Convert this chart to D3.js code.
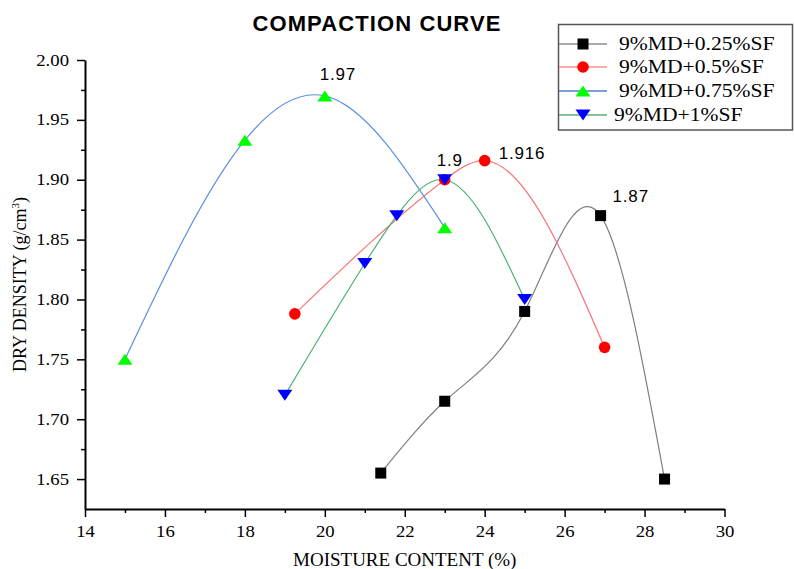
<!DOCTYPE html>
<html>
<head>
<meta charset="utf-8">
<script src="https://cdn.jsdelivr.net/npm/d3@7"></script>
<style>
  body { margin: 0; background: #fff; }
  svg { display: block; }
</style>
</head>
<body>
<svg id="chart"></svg>
<script>
var width = 794;
var height = 569;

// series names (legend order)
var seriesNames = ["9%MD+0.25%SF", "9%MD+0.5%SF", "9%MD+0.75%SF", "9%MD+1%SF"];

// moisture content (%) and dry density (g/cm3) per series
var moist025 = [21.4, 23, 25, 26.9, 28.5];
var dens025  = [1.655, 1.715, 1.79, 1.87, 1.65];

var moist05 = [19.25, 23, 24, 27];
var dens05  = [1.788, 1.9, 1.916, 1.76];

var moist075 = [15, 18, 20, 23];
var dens075  = [1.75, 1.933, 1.97, 1.86];

var moist1 = [19, 21, 21.8, 23, 25];
var dens1  = [1.72, 1.83, 1.87, 1.9, 1.8];

// peak labels
var peakLabels = ["1.87", "1.916", "1.97", "1.9"];
var peakIndex = [3, 2, 2, 3];

var xTicks = [14, 16, 18, 20, 22, 24, 26, 28, 30];
var yTicks = [1.65, 1.70, 1.75, 1.80, 1.85, 1.90, 1.95, 2.00];

var lineColors = ["#7f7f7f", "#f47a7a", "#5a8ee0", "#4fae72"];
var markColors = ["#000000", "#ff0000", "#00ff00", "#0000ff"];
var shapes = ["square", "circle", "up", "down"];

var seriesX = [moist025, moist05, moist075, moist1];
var seriesY = [dens025, dens05, dens075, dens1];

var serif = "'Liberation Serif', 'Times New Roman', serif";
var sans = "'Liberation Sans', Arial, sans-serif";

var margin = {left: 85, right: 794 - 724.5, top: 60, bottom: 569 - 509};

var x = d3.scaleLinear().domain([14, 30]).range([margin.left, width - margin.right]);
var y = d3.scaleLinear().domain([1.625, 2.0]).range([height - margin.bottom, margin.top]);

// natural cubic spline with x as the parameter (like Origin's spline connect),
// written as a d3 curve so each span is one exact bezier
function SplineX(context) { this._context = context; }
SplineX.prototype = {
    areaStart: function() { this._line = 0; },
    areaEnd: function() { this._line = NaN; },
    lineStart: function() { this._x = []; this._y = []; },
    point: function(px, py) { this._x.push(+px); this._y.push(+py); },
    lineEnd: function() {
        var xs = this._x, ys = this._y, n = xs.length - 1, c = this._context;
        if (n < 0) return;
        c.moveTo(xs[0], ys[0]);
        if (n === 0) return;
        var h = [], i;
        for (i = 0; i < n; i++) h.push(xs[i + 1] - xs[i]);
        // second derivatives M (M0 = Mn = 0)
        var M = new Array(n + 1).fill(0);
        if (n > 1) {
            var a = [], b = [], cc = [], r = [];
            for (i = 1; i < n; i++) {
                a.push(h[i - 1]);
                b.push(2 * (h[i - 1] + h[i]));
                cc.push(h[i]);
                r.push(6 * ((ys[i + 1] - ys[i]) / h[i] - (ys[i] - ys[i - 1]) / h[i - 1]));
            }
            var m = b.length;
            for (i = 1; i < m; i++) {
                var w = a[i] / b[i - 1];
                b[i] -= w * cc[i - 1];
                r[i] -= w * r[i - 1];
            }
            var sol = new Array(m);
            sol[m - 1] = r[m - 1] / b[m - 1];
            for (i = m - 2; i >= 0; i--) sol[i] = (r[i] - cc[i] * sol[i + 1]) / b[i];
            for (i = 0; i < m; i++) M[i + 1] = sol[i];
        }
        for (i = 0; i < n; i++) {
            var s = (ys[i + 1] - ys[i]) / h[i];
            var d0 = s - h[i] * (2 * M[i] + M[i + 1]) / 6;
            var d1 = s + h[i] * (M[i] + 2 * M[i + 1]) / 6;
            c.bezierCurveTo(xs[i] + h[i] / 3, ys[i] + d0 * h[i] / 3,
                            xs[i + 1] - h[i] / 3, ys[i + 1] - d1 * h[i] / 3,
                            xs[i + 1], ys[i + 1]);
        }
    }
};
function curveSplineX(context) { return new SplineX(context); }

var svg = d3.select("#chart")
    .attr("width", width)
    .attr("height", height);

svg.append("rect").attr("width", width).attr("height", height).attr("fill", "#fff");

// title
svg.append("text")
    .attr("x", 377)
    .attr("y", 31)
    .attr("text-anchor", "middle")
    .style("font-family", sans)
    .style("font-weight", "bold")
    .style("font-size", "22px")
    .style("letter-spacing", "1.1px")
    .text("COMPACTION CURVE");

// minor ticks
svg.append("g")
    .attr("transform", "translate(0," + y.range()[0] + ")")
    .call(d3.axisBottom(x).tickValues(d3.range(15, 30, 2)).tickSize(4).tickFormat(""))
    .call(function(g){ g.select(".domain").remove(); })
    .selectAll("line").attr("stroke-width", 1.5);

svg.append("g")
    .attr("transform", "translate(" + x.range()[0] + ",0)")
    .call(d3.axisLeft(y).tickValues(d3.range(1.675, 2.0, 0.05)).tickSize(4).tickFormat(""))
    .call(function(g){ g.select(".domain").remove(); })
    .selectAll("line").attr("stroke-width", 1.5);

// major axes
var xAxis = svg.append("g")
    .attr("transform", "translate(0," + y.range()[0] + ")")
    .call(d3.axisBottom(x).tickValues(xTicks).tickSize(8).tickPadding(9).tickSizeOuter(0));

var yAxis = svg.append("g")
    .attr("transform", "translate(" + x.range()[0] + ",0)")
    .call(d3.axisLeft(y).tickValues(yTicks).tickSize(8).tickPadding(8).tickSizeOuter(0)
        .tickFormat(d3.format(".2f")));

var stretch = 1.17;
[xAxis, yAxis].forEach(function(a){
    a.attr("font-family", serif).attr("font-size", 16);
    a.select(".domain").attr("stroke-width", 2);
    a.selectAll(".tick line").attr("stroke-width", 1.5);
    a.selectAll(".tick text")
        .attr("fill", "#000")
        .attr("x", function(){ return (+d3.select(this).attr("x") || 0) / stretch; })
        .attr("transform", "scale(" + stretch + ",1)");
});

// axis titles
svg.append("text")
    .attr("x", (x.range()[0] + x.range()[1]) / 2)
    .attr("y", 566)
    .attr("text-anchor", "middle")
    .style("font-family", serif)
    .style("font-size", "19px")
    .text("MOISTURE CONTENT (%)");

var yt = svg.append("text")
    .attr("transform", "translate(26," + (y.range()[0] + y.range()[1]) / 2 + ") rotate(-90)")
    .attr("text-anchor", "middle")
    .style("font-family", serif)
    .style("font-size", "18px");
yt.append("tspan").text("DRY DENSITY (g/cm");
yt.append("tspan").attr("dy", -7).style("font-size", "11px").text("3");
yt.append("tspan").attr("dy", 7).text(")");

// marker drawing
function drawMarker(sel, shape, color) {
    if (shape === "square") {
        sel.append("rect").attr("x", -5.5).attr("y", -5.5).attr("width", 11).attr("height", 11).attr("fill", color);
    } else if (shape === "circle") {
        sel.append("circle").attr("r", 5.8).attr("fill", color);
    } else if (shape === "up") {
        sel.append("path").attr("d", "M-7.5,5.5L7.5,5.5L0,-5.5Z").attr("fill", color);
    } else {
        sel.append("path").attr("d", "M-7.5,-5.5L7.5,-5.5L0,5.5Z").attr("fill", color);
    }
}

var line = d3.line()
    .x(function(d){ return x(d[0]); })
    .y(function(d){ return y(d[1]); })
    .curve(curveSplineX);

var plot = svg.append("g");

seriesNames.forEach(function(name, i) {
    var pts = d3.zip(seriesX[i], seriesY[i]);
    plot.append("path")
        .datum(pts)
        .attr("fill", "none")
        .attr("stroke", lineColors[i])
        .attr("stroke-width", 1.2)
        .attr("d", line);
});

seriesNames.forEach(function(name, i) {
    var pts = d3.zip(seriesX[i], seriesY[i]);
    plot.append("g").selectAll("g")
        .data(pts)
        .enter()
        .append("g")
        .attr("transform", function(d){ return "translate(" + x(d[0]) + "," + y(d[1]) + ")"; })
        .each(function(){ drawMarker(d3.select(this), shapes[i], markColors[i]); });
});

// peak labels
var labelOffsets = [[12, -14, "start"], [14, -2, "start"], [13, -16, "middle"], [-8, -14, "start"]];
peakLabels.forEach(function(t, i) {
    var k = peakIndex[i];
    svg.append("text")
        .attr("x", x(seriesX[i][k]) + labelOffsets[i][0])
        .attr("y", y(seriesY[i][k]) + labelOffsets[i][1])
        .attr("text-anchor", labelOffsets[i][2])
        .style("font-family", sans)
        .style("font-size", "17px")
        .style("letter-spacing", "0.8px")
        .text(t);
});

// legend (line colours follow the plotted curves)
var legend = svg.append("g");
legend.append("rect")
    .attr("x", 558.5).attr("y", 24.5)
    .attr("width", 234).attr("height", 105.5)
    .attr("fill", "#fff")
    .attr("stroke", "#555")
    .attr("stroke-width", 1.5);

var legendLine = ["#8c8c8c", "#ff8c8c", "#4f7fd0", "#58ad78"];
var rowY = [44, 67, 91, 115];
var textX = [619, 619, 619, 614];
seriesNames.forEach(function(name, i) {
    var r = legend.append("g").attr("transform", "translate(0," + rowY[i] + ")");
    r.append("line").attr("x1", 559).attr("x2", 607).attr("stroke", legendLine[i]).attr("stroke-width", 1.3);
    drawMarker(r.append("g").attr("transform", "translate(583,0)"), shapes[i], markColors[i]);
    r.append("text")
        .attr("transform", "translate(" + textX[i] + ",6) scale(1.2,1)")
        .style("font-family", serif)
        .style("font-size", "18px")
        .text(name);
});
</script>
</body>
</html>
